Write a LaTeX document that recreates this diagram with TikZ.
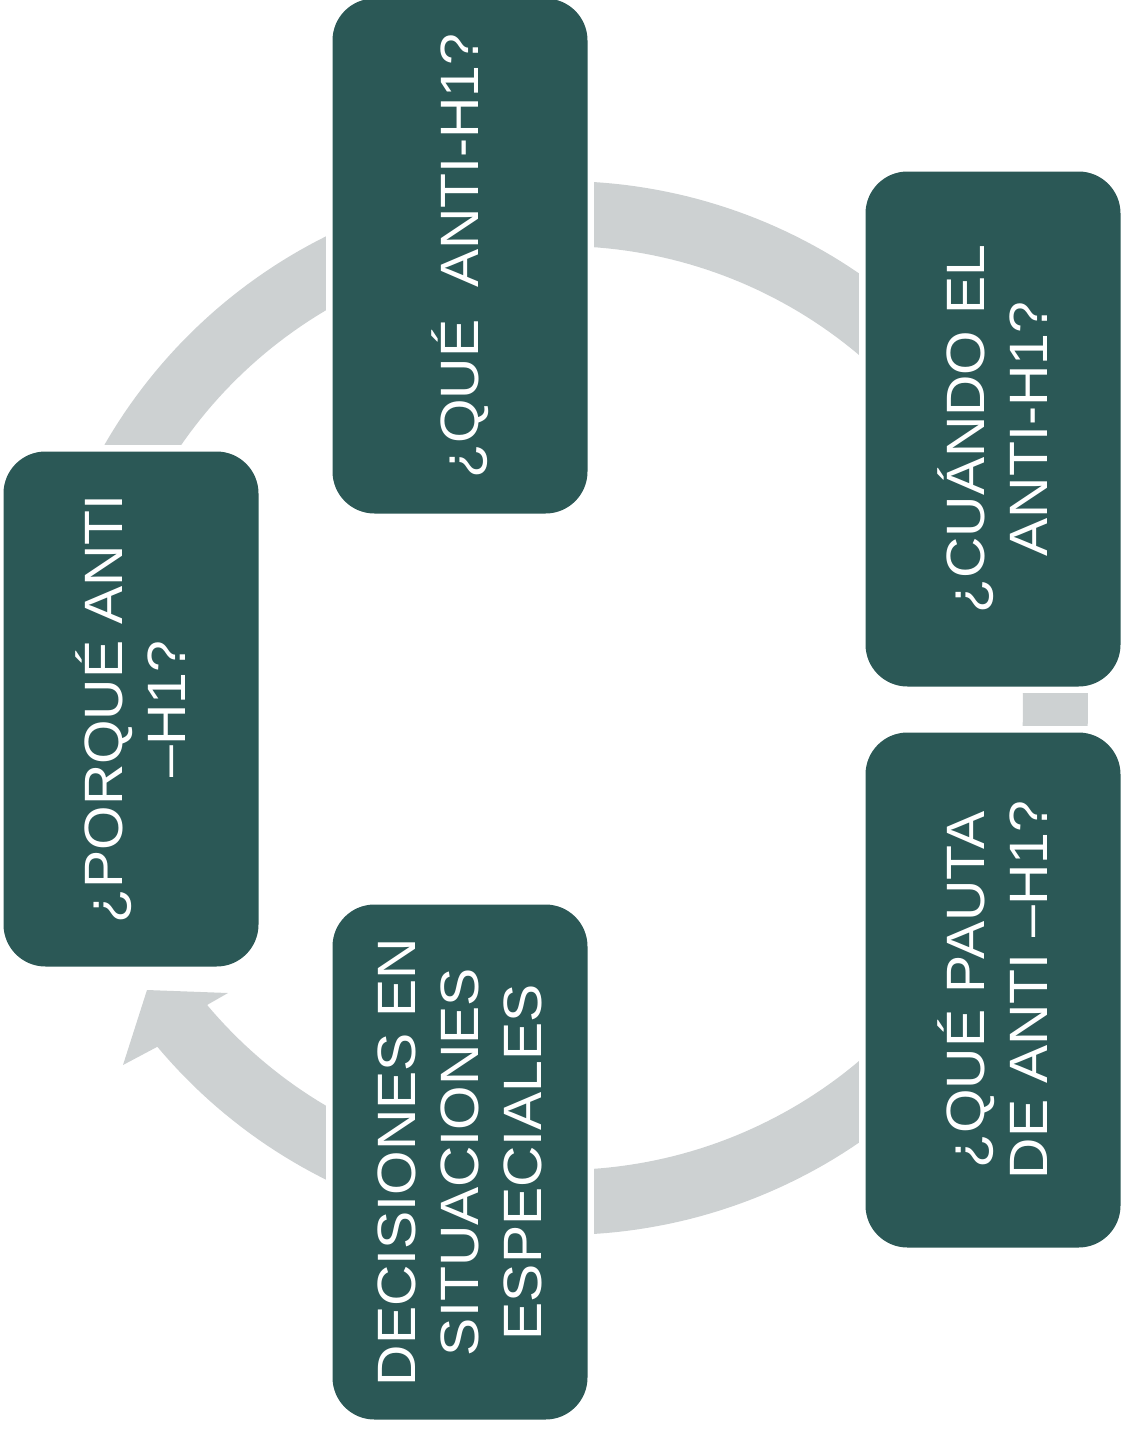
\documentclass[tikz,border=0pt]{standalone}
\usepackage{fontspec}
\setmainfont[FakeStretch=1.06]{Liberation Sans}
\definecolor{boxteal}{RGB}{43,88,86}
\definecolor{ringgrey}{RGB}{205,209,210}
\begin{document}
\begin{tikzpicture}[x=1pt,y=-1pt,
  box/.style={rectangle, rounded corners=42pt, fill=boxteal, text=white,
    minimum width=515pt, minimum height=255pt, inner sep=0pt, align=center,
    rotate=90, font=\fontsize{54}{63}\selectfont},
  gapfill/.style={fill=white}]
\useasboundingbox (0,0) rectangle (1124,1429);
% cycle ring with arrow head
\fill[ringgrey] plot[domain=158:500, samples=300] ({561+527*cos(\x)},{708+527*sin(\x)})
  -- (123,1065) -- (147,990) -- (228,993)
  -- plot[domain=500:158, samples=300] ({561+462*cos(\x)},{708+462*sin(\x)}) -- cycle;
% box centres
\coordinate (c1) at (460,256);
\coordinate (c2) at (993,429);
\coordinate (c3) at (993,990);
\coordinate (c4) at (460,1162);
\coordinate (c5) at (131,709);
% white margins round the boxes
\foreach \c in {c1,c2,c3,c4,c5}
  \fill[gapfill] (\c) ++(-134,-264) rectangle ++(268,528);
% boxes
\node[box] (b1) at (c1) {¿QUÉ\ \ ANTI-H1?};
\node[box] (b2) at (c2) {¿CUÁNDO EL\\ANTI-H1?};
\node[box] (b3) at (c3) {¿QUÉ PAUTA\\DE ANTI –H1?};
\node[box] (b4) at (c4) {DECISIONES EN\\SITUACIONES\\ESPECIALES};
\node[box] (b5) at (c5) {¿PORQUÉ ANTI\\–H1?};
\end{tikzpicture}
\end{document}
